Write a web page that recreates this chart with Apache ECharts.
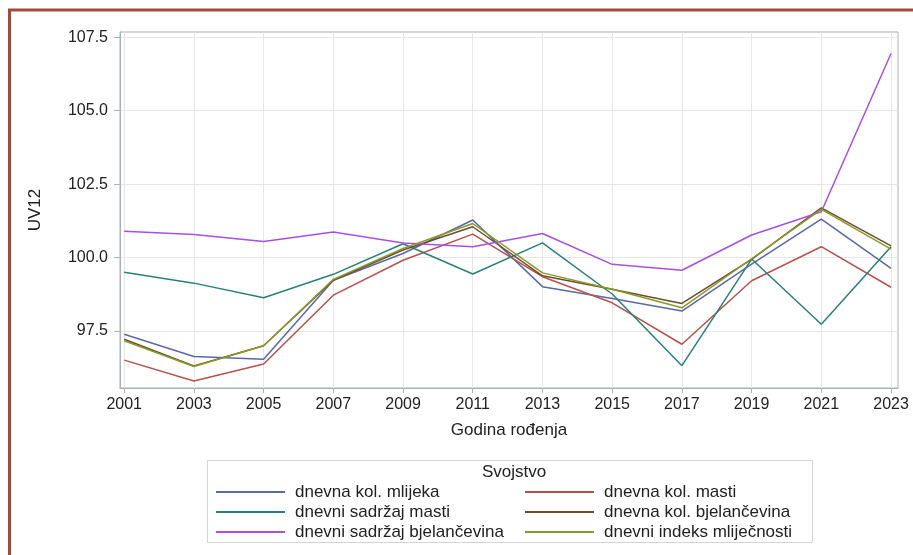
<!DOCTYPE html>
<html>
<head>
<meta charset="utf-8">
<script src="https://cdn.jsdelivr.net/npm/echarts@6/dist/echarts.min.js"></script>
<style>
  html, body { margin: 0; padding: 0; background: #fff; }
  #chart { width: 913px; height: 555px; }
</style>
</head>
<body>
<div id="chart"></div>
<script>
// godine rođenja
var years = [2001, 2003, 2005, 2007, 2009, 2011, 2013, 2015, 2017, 2019, 2021, 2023];
var yTicks = [97.5, 100.0, 102.5, 105.0, 107.5];

// UV12 po svojstvu
var kolMlijeka   = [97.39, 96.63, 96.54, 99.23, 100.14, 101.28, 99.01, 98.61, 98.18, 99.78, 101.31, 99.63];
var kolMasti     = [96.51, 95.80, 96.38, 98.72, 99.91, 100.80, 99.35, 98.46, 97.05, 99.21, 100.37, 98.99];
var sadrzajMasti = [99.50, 99.13, 98.63, 99.43, 100.47, 99.44, 100.50, 98.76, 96.32, 99.95, 97.73, 100.37];
var kolBjel      = [97.22, 96.31, 97.00, 99.23, 100.26, 101.05, 99.38, 98.92, 98.44, 99.94, 101.69, 100.40];
var sadrzajBjel  = [100.90, 100.79, 100.55, 100.87, 100.50, 100.37, 100.82, 99.77, 99.57, 100.77, 101.56, 106.95];
var indeks       = [97.17, 96.29, 97.00, 99.26, 100.31, 101.16, 99.48, 98.92, 98.29, 99.96, 101.64, 100.29];

var names = ['dnevna kol. mlijeka', 'dnevna kol. masti', 'dnevni sadržaj masti',
             'dnevna kol. bjelančevina', 'dnevni sadržaj bjelančevina', 'dnevni indeks mliječnosti'];
var values = [kolMlijeka, kolMasti, sadrzajMasti, kolBjel, sadrzajBjel, indeks];
var colors = ['#5b68a6', '#b5524a', '#2a8079', '#6e4d2e', '#a94fe6', '#8a9a2a'];

var font = 'Liberation Sans, Arial, sans-serif';

function pairs(arr) {
    return arr.map(function (v, i) { return [years[i], v]; });
}

var chart = echarts.init(document.getElementById('chart'));

var legendCommon = {
    orient: 'vertical',
    icon: 'rect',
    itemWidth: 69,
    itemHeight: 2,
    itemGap: 0,
    padding: 0,
    selectedMode: false,
    textStyle: { fontFamily: font, fontSize: 17, color: '#222', lineHeight: 20, padding: [0, 0, 0, 5] }
};

var option = {
    animation: false,
    title: {
        text: 'Svojstvo',
        left: 509,
        top: 459,
        textAlign: 'center',
        textStyle: { fontFamily: font, fontSize: 17, fontWeight: 'normal', color: '#222' }
    },
    grid: {
        left: 120, right: 15, top: 32, bottom: 167,
        show: true, borderColor: '#a9b0b6', borderWidth: 1
    },
    xAxis: {
        type: 'value',
        min: 2000.88,
        max: 2023.2,
        name: 'Godina rođenja',
        nameLocation: 'middle',
        nameGap: 34,
        nameTextStyle: { fontFamily: font, fontSize: 17, color: '#222' },
        axisLine: { lineStyle: { color: '#a9b0b6' } },
        axisTick: { show: true, length: 5, customValues: years, lineStyle: { color: '#a9b0b6' } },
        axisLabel: {
            customValues: years, margin: 9,
            fontFamily: font, fontSize: 16, color: '#222',
            formatter: function (v) { return String(v); }
        },
        splitLine: { show: true, lineStyle: { color: '#e6e6e6' } }
    },
    yAxis: {
        type: 'value',
        min: 95.56,
        max: 107.68,
        name: 'UV12',
        nameLocation: 'middle',
        nameGap: 76,
        nameTextStyle: { fontFamily: font, fontSize: 17, color: '#222' },
        axisLine: { show: true, lineStyle: { color: '#a9b0b6' } },
        axisTick: { show: true, length: 6, customValues: yTicks, lineStyle: { color: '#a9b0b6' } },
        axisLabel: {
            customValues: yTicks, margin: 12,
            fontFamily: font, fontSize: 16, color: '#222',
            formatter: function (v) { return v.toFixed(1); }
        },
        splitLine: { show: true, lineStyle: { color: '#e6e6e6' } }
    },
    legend: [
        Object.assign({ left: 216, top: 482, data: [names[0], names[2], names[4]] }, legendCommon),
        Object.assign({ left: 525, top: 482, data: [names[1], names[3], names[5]] }, legendCommon)
    ],
    graphic: [
        {
            type: 'rect',
            shape: { x: 9.5, y: 10, width: 1000, height: 1000 },
            style: { fill: 'none', stroke: '#9e4b3f', lineWidth: 3 }
        },
        {
            type: 'rect',
            shape: { x: 207.5, y: 460.5, width: 605, height: 82 },
            style: { fill: 'none', stroke: '#d4d4d4', lineWidth: 1 }
        }
    ],
    series: names.map(function (n, i) {
        return {
            name: n,
            type: 'line',
            data: pairs(values[i]),
            showSymbol: false,
            lineStyle: { width: 1.5, color: colors[i] },
            itemStyle: { color: colors[i] }
        };
    })
};

chart.setOption(option);
</script>
</body>
</html>
